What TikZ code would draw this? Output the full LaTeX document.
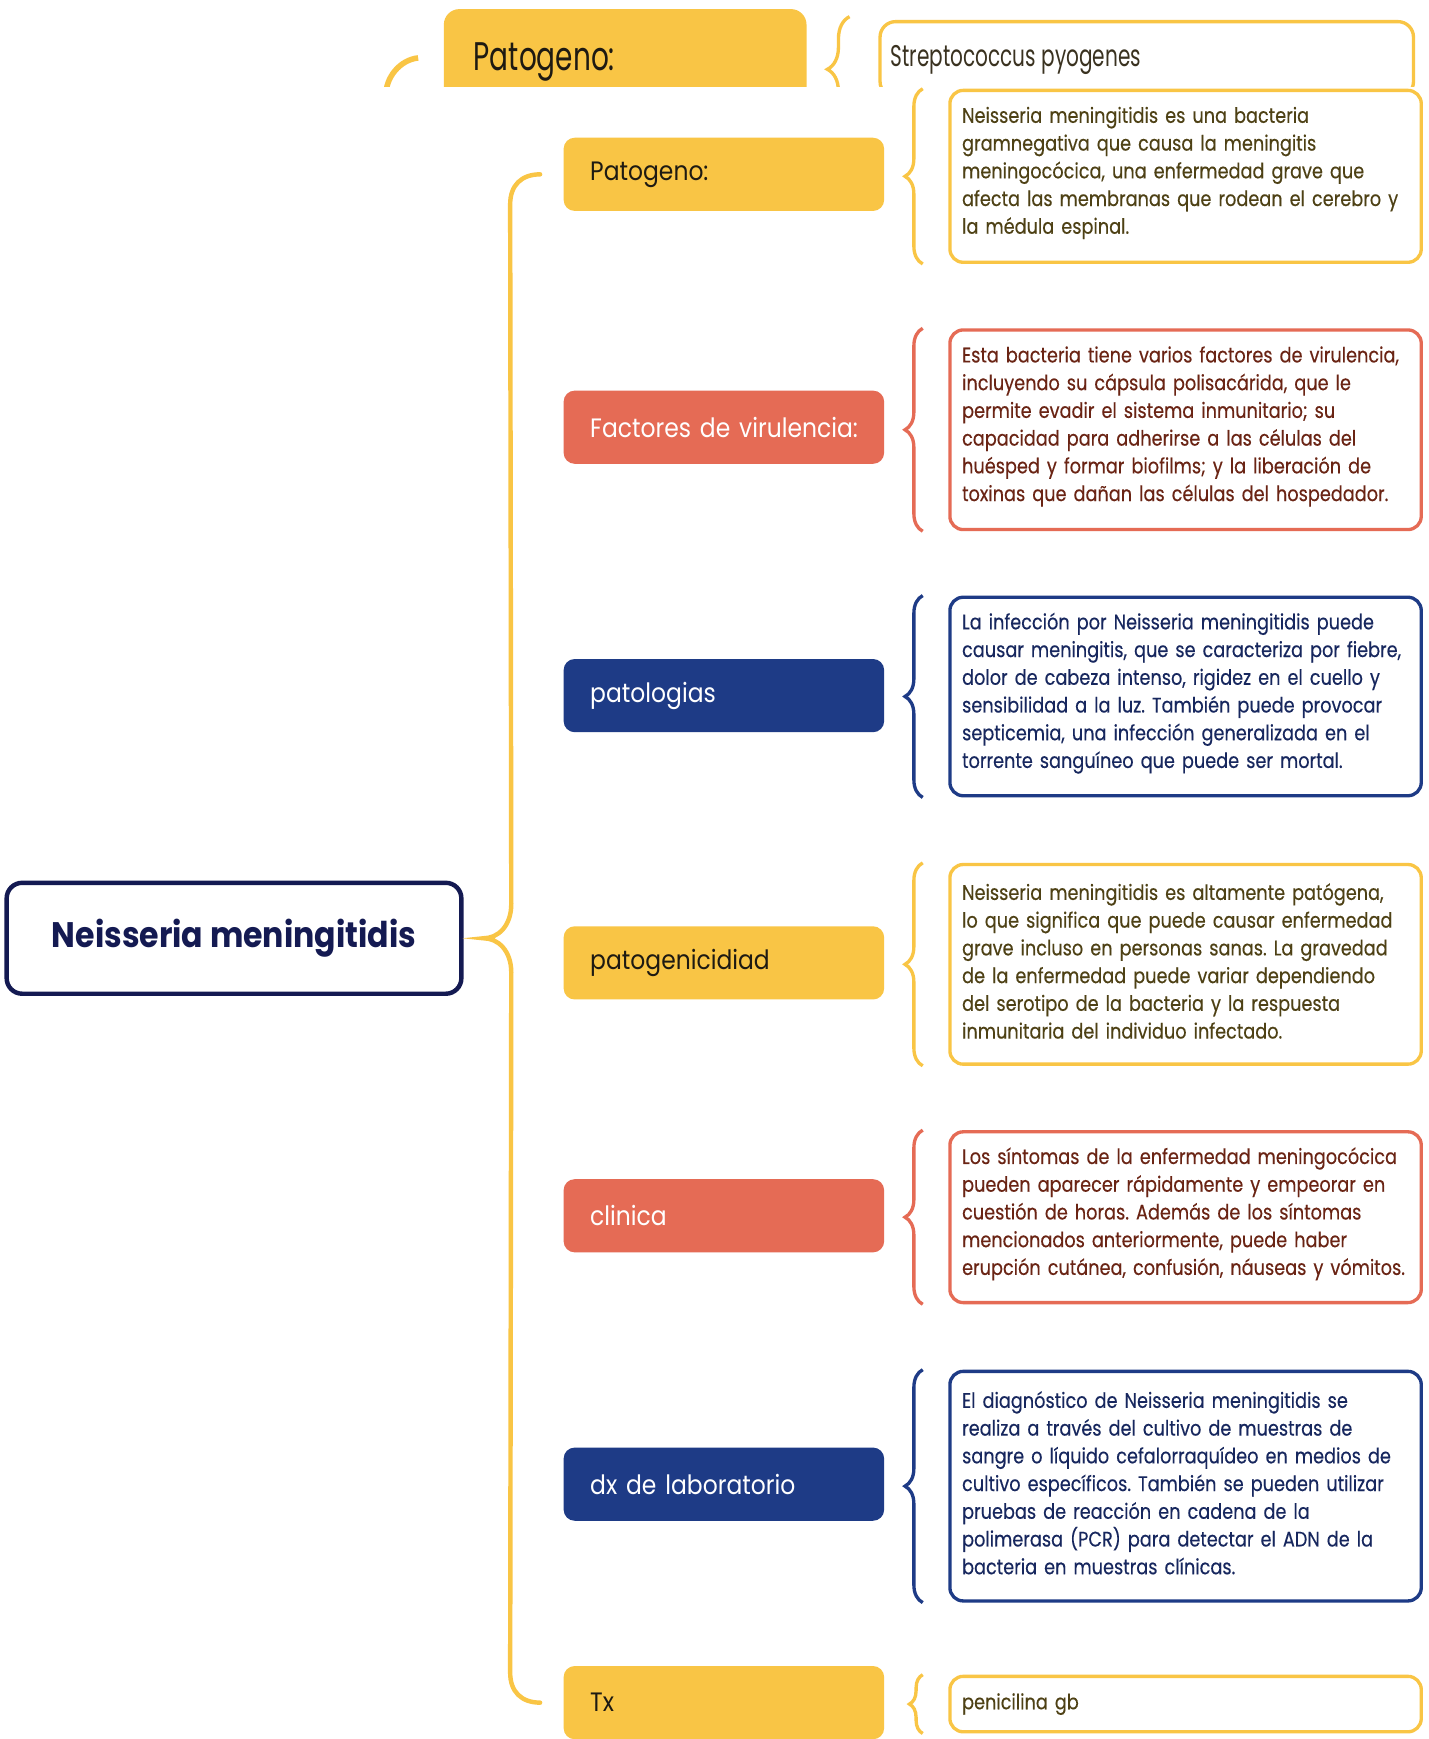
\documentclass[tikz,border=0pt]{standalone}
\usepackage{fontspec}
\setmainfont{Poppins}
\newfontfamily\detfont[FakeStretch=0.84,FakeBold=0.3]{Poppins}
\newfontfamily\lblfont[FakeStretch=0.88,WordSpace=0.8]{Poppins}
\newfontfamily\rootfont[FakeStretch=0.89]{Poppins}
\newfontfamily\topfont[FakeStretch=0.7]{Poppins}
\newfontfamily\topfontb[FakeStretch=0.67]{Poppins}
\frenchspacing
\usetikzlibrary{decorations.pathreplacing,calc}
\definecolor{yel}{HTML}{F9C545}
\definecolor{sal}{HTML}{E56B55}
\definecolor{nav}{HTML}{1E3B86}
\definecolor{rootb}{HTML}{141A52}
\definecolor{ytxt}{HTML}{4E4115}
\definecolor{stxt}{HTML}{6A2414}
\definecolor{ntxt}{HTML}{17275E}
\definecolor{ltxt}{HTML}{1E1A12}
\definecolor{ttxt}{HTML}{3A3220}
\tikzset{
  lbl/.style={rectangle, rounded corners=10pt, minimum width=289pt, minimum height=66pt,
    text width=241pt, inner xsep=24pt, inner ysep=0pt, align=left, anchor=north west,
    font=\lblfont\fontsize{24}{28}\selectfont},
  ylbl/.style={lbl, fill=yel, text=ltxt},
  slbl/.style={lbl, fill=sal, text=white},
  nlbl/.style={lbl, fill=nav, text=white},
  det/.style={rectangle, rounded corners=12pt, draw, line width=3pt, fill=white,
    text width=403pt, inner xsep=11pt, inner ysep=0pt, align=left, anchor=north west,
    font=\detfont\fontsize{19}{25}\selectfont},
  ydet/.style={det, draw=yel, text=ytxt},
  sdet/.style={det, draw=sal, text=stxt},
  ndet/.style={det, draw=nav, text=ntxt},
  br/.style={decorate, decoration={brace, amplitude=16pt}, line width=3pt},
  bigbr/.style={draw=yel, line width=4pt, line cap=round},
}
\newcommand{\dtext}[1]{#1\par\vspace{6pt}}
\begin{document}
\begin{tikzpicture}[x=1pt, y=-1pt]
\useasboundingbox (0,0) rectangle (1288,1568);
\fill[white] (0,0) rectangle (1288,1568);

% ---------- top strip (cut fragment) ----------
\begin{scope}
\clip (0,0) rectangle (1288,78);
\node[rectangle, rounded corners=14pt, fill=yel, minimum width=327pt, minimum height=94pt,
  anchor=north west, inner sep=0pt] (tpat) at (400,8) {};
\node[anchor=west, inner sep=0pt, text=ltxt, font=\topfont\fontsize{36}{40}\selectfont] (tpl) at (427,56) {Patogeno:};
\node[rectangle, rounded corners=14pt, draw=yel, line width=3pt, fill=white, minimum width=481pt,
  minimum height=68pt, anchor=north west, inner sep=0pt] (tstrep) at (792,18) {};
\node[anchor=west, inner sep=0pt, text=ttxt, font=\topfontb\fontsize{27}{30}\selectfont] (tsl) at (803,54) {Streptococcus pyogenes};
\coordinate (tarc) at ($(tpat.west)+(-23,-3)$);
\draw[yel, line width=5pt] (tarc) .. controls +(-17,2) and +(0,-15) .. ++(-29,33);
\draw[br, draw=yel, decoration={amplitude=20pt}] ([xshift=-26pt]tstrep.north west |- 0,110) -- ([xshift=-26pt]tstrep.north west |- 0,15);
\end{scope}

% ---------- root ----------
\node[rectangle, rounded corners=14pt, draw=rootb, line width=4pt, fill=white,
  minimum width=410pt, minimum height=100pt, text=rootb,
  font=\rootfont\bfseries\fontsize{32}{36}\selectfont] (root) at (211,846) {Neisseria meningitidis};

% ---------- labels ----------
\node[ylbl] (p1) at (508,124) {Patogeno:};
\node[slbl] (p2) at (508,352) {\mbox{Factores de virulencia:}};
\node[nlbl] (p3) at (508,594) {patologias};
\node[ylbl] (p4) at (508,835) {patogenicidiad};
\node[slbl] (p5) at (508,1063) {clinica};
\node[nlbl] (p6) at (508,1305) {dx de laboratorio};
\node[ylbl] (p7) at (508,1502) {Tx};

% ---------- details ----------
\node[ydet, minimum height=155pt] (d1) at (855,80) {\dtext{Neisseria meningitidis es una bacteria\\gramnegativa que causa la meningitis\\meningocócica, una enfermedad grave que\\afecta las membranas que rodean el cerebro y\\la médula espinal.}};
\node[sdet, minimum height=180pt] (d2) at (855,296) {\dtext{Esta bacteria tiene varios factores de virulencia,\\incluyendo su cápsula polisacárida, que le\\permite evadir el sistema inmunitario; su\\capacidad para adherirse a las células del\\huésped y formar biofilms; y la liberación de\\toxinas que dañan las células del hospedador.}};
\node[ndet, minimum height=179pt] (d3) at (855,537) {\dtext{La infección por Neisseria meningitidis puede\\causar meningitis, que se caracteriza por fiebre,\\dolor de cabeza intenso, rigidez en el cuello y\\sensibilidad a la luz. También puede provocar\\septicemia, una infección generalizada en el\\torrente sanguíneo que puede ser mortal.}};
\node[ydet, minimum height=180pt] (d4) at (855,778) {\dtext{Neisseria meningitidis es altamente patógena,\\lo que significa que puede causar enfermedad\\grave incluso en personas sanas. La gravedad\\de la enfermedad puede variar dependiendo\\del serotipo de la bacteria y la respuesta\\inmunitaria del individuo infectado.}};
\node[sdet, minimum height=154pt] (d5) at (855,1019) {\dtext{Los síntomas de la enfermedad meningocócica\\pueden aparecer rápidamente y empeorar en\\cuestión de horas. Además de los síntomas\\mencionados anteriormente, puede haber\\erupción cutánea, confusión, náuseas y vómitos.}};
\node[ndet, minimum height=207pt] (d6) at (855,1235) {\dtext{El diagnóstico de Neisseria meningitidis se\\realiza a través del cultivo de muestras de\\sangre o líquido cefalorraquídeo en medios de\\cultivo específicos. También se pueden utilizar\\pruebas de reacción en cadena de la\\polimerasa (PCR) para detectar el ADN de la\\bacteria en muestras clínicas.}};
\node[ydet, minimum height=50pt] (d7) at (855,1510) {penicilina gb};

% ---------- small braces ----------
\draw[br, draw=yel] ([xshift=-23pt]d1.south west) -- ([xshift=-23pt]d1.north west);
\draw[br, draw=sal] ([xshift=-23pt]d2.south west) -- ([xshift=-23pt]d2.north west);
\draw[br, draw=nav] ([xshift=-23pt]d3.south west) -- ([xshift=-23pt]d3.north west);
\draw[br, draw=yel] ([xshift=-23pt]d4.south west) -- ([xshift=-23pt]d4.north west);
\draw[br, draw=sal] ([xshift=-23pt]d5.south west) -- ([xshift=-23pt]d5.north west);
\draw[br, draw=nav] ([xshift=-23pt]d6.south west) -- ([xshift=-23pt]d6.north west);
\draw[br, draw=yel, decoration={amplitude=12pt}] ([xshift=-23pt]d7.south west) -- ([xshift=-23pt]d7.north west);

% ---------- big brace ----------
\coordinate (bt) at ($(p1.west)+(-21,0)$);
\coordinate (bb) at ($(p7.west)+(-21,0)$);
\coordinate (btip) at ($(root.east)+(18,0)$);
\draw[bigbr] (bt) .. controls +(-17,0) and +(0,-17) .. ++(-27,27)
  -- ($(btip)+(25,-31)$) .. controls +(0,20) and +(13,0) .. (btip)
  .. controls +(13,0) and +(0,-20) .. ++(25,31)
  -- ($(bb)+(-27,-27)$) .. controls +(0,17) and +(-17,0) .. (bb);
\end{tikzpicture}
\end{document}
